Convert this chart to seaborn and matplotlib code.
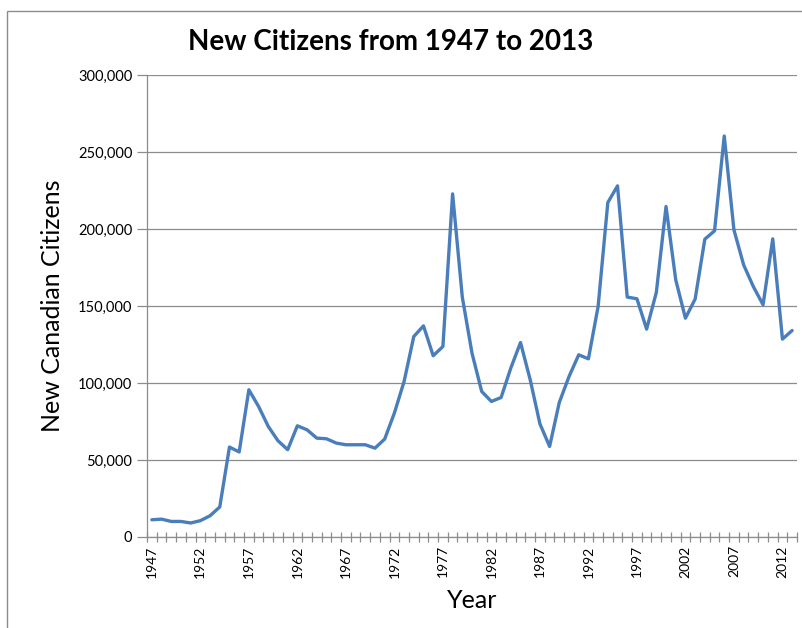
import matplotlib
matplotlib.use("Agg")
import matplotlib.pyplot as plt
from matplotlib.patches import Rectangle
from matplotlib.ticker import FuncFormatter, FixedLocator
import seaborn as sns
import pandas as pd

years = list(range(1947, 2014))
citizens = [
    11200, 11600, 10100, 10100, 9100, 10600, 13800, 19500, 58400, 55200,
    95600, 84800, 71800, 62500, 56700, 72200, 69600, 64200, 63800, 61000,
    59900, 59900, 59900, 57700, 63600, 80500, 101000, 130200, 137100, 117700,
    123700, 222800, 155800, 119400, 94500, 88000, 90600, 109700, 126300, 102100,
    73500, 58800, 87400, 104200, 118300, 115700, 149700, 217200, 228000, 155800,
    154700, 135000, 158800, 214600, 167000, 142100, 154500, 193400, 198800, 260400,
    199400, 176700, 162600, 150800, 193600, 128500, 134100,
]
label_years = list(range(1947, 2014, 5))
y_ticks = [0, 50000, 100000, 150000, 200000, 250000, 300000]

df = pd.DataFrame({"Year": years, "Citizens": citizens})

sns.set_theme(style="white")
plt.rcParams["font.family"] = ["Lato", "DejaVu Sans"]
plt.rcParams["text.color"] = "black"
plt.rcParams["axes.labelcolor"] = "black"

fig = plt.figure(figsize=(8.03, 6.28), dpi=100)
ax = fig.add_axes([147 / 803, 1 - 537 / 628, 650 / 803, (537 - 75) / 628])

sns.lineplot(data=df, x="Year", y="Citizens", ax=ax, color="#4A7EBB", linewidth=2.4)

ax.set_xlim(1946.5, 2013.5)
ax.set_ylim(0, 300000)
ax.set_yticks(y_ticks)
ax.yaxis.set_major_formatter(FuncFormatter(lambda v, p: f"{int(v):,}"))
ax.grid(axis="y", color="#8c8c8c", linewidth=0.9)
ax.set_axisbelow(True)

ax.set_xticks(label_years)
ax.set_xticklabels([str(y) for y in label_years], rotation=90)
ax.xaxis.set_minor_locator(FixedLocator([1946.5 + k for k in range(68)]))
ax.tick_params(axis="x", which="major", length=0, pad=6, labelsize=10, labelcolor="black")
ax.tick_params(axis="x", which="minor", length=7, direction="inout", color="#8c8c8c", width=0.9, bottom=True)
ax.tick_params(axis="y", which="major", length=7.5, direction="out", color="#8c8c8c", width=0.9,
               left=True, labelsize=10.5, pad=3, labelcolor="black")

for s in ["top", "right"]:
    ax.spines[s].set_visible(False)
for s in ["left", "bottom"]:
    ax.spines[s].set_color("#8c8c8c")
    ax.spines[s].set_linewidth(0.9)

ax.set_xlabel("Year", fontsize=18, labelpad=8)
ax.set_ylabel("New Canadian Citizens", fontsize=18, labelpad=10)

fig.text(391 / 803, 1 - 42 / 628, "New Citizens from 1947 to 2013", fontsize=20,
         fontweight="bold", ha="center", va="center", color="black")

fig.patches.append(Rectangle((7 / 803, -0.05), 1.2, 1 - 11 / 628 + 0.05,
                             transform=fig.transFigure, fill=False,
                             edgecolor="#8c8c8c", linewidth=1.0))

fig.savefig("out.png", dpi=100)
